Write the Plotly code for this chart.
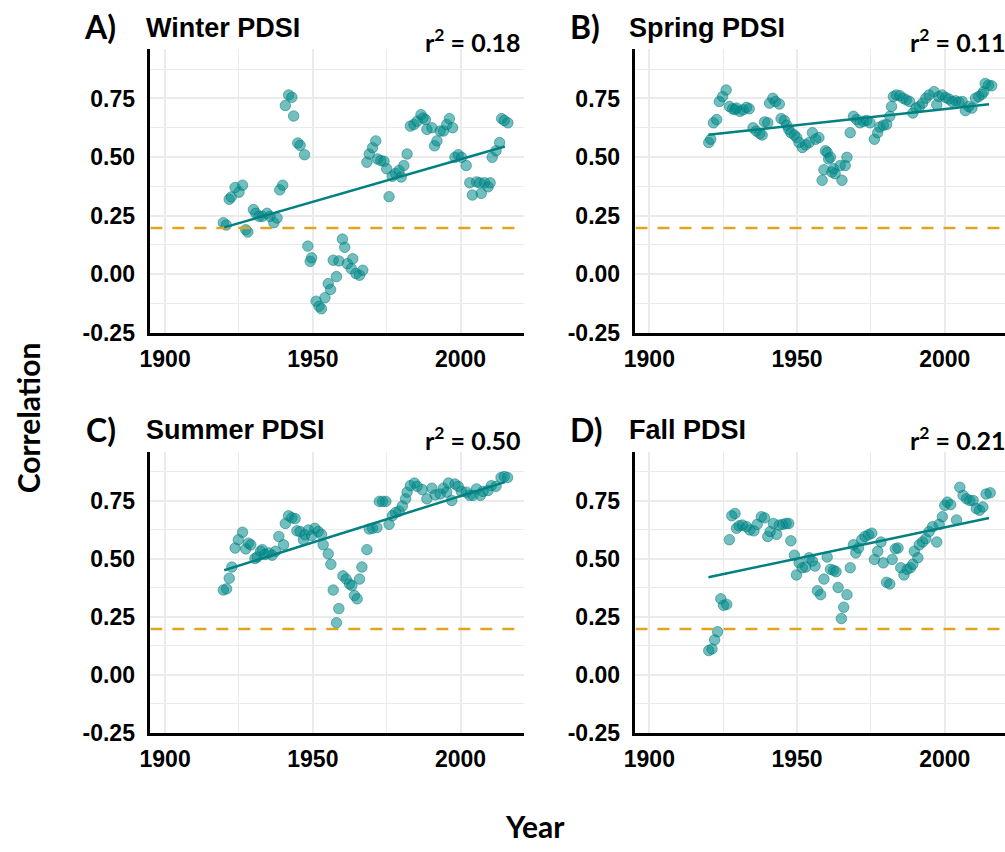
import plotly.graph_objects as go

# ---------------- data ----------------
panels = ["A)", "B)", "C)", "D)"]
titles = ["Winter PDSI", "Spring PDSI", "Summer PDSI", "Fall PDSI"]
r2_labels = ["0.18", "0.11", "0.50", "0.21"]

winter_year = [1919.7, 1920.7, 1921.7, 1922.4, 1923.7, 1925.0, 1926.2, 1927.3, 1928.0, 1929.9,
               1930.7, 1931.8, 1932.9, 1934.5, 1935.5, 1936.8, 1937.9, 1938.8, 1939.8, 1940.7,
               1941.8, 1942.9, 1943.5, 1944.9, 1945.7, 1947.2, 1948.3, 1949.1, 1949.6, 1951.1,
               1952.1, 1952.9, 1954.1, 1955.2, 1956.0, 1956.9, 1958.0, 1958.8, 1960.0, 1960.8,
               1961.7, 1963.0, 1963.5, 1964.6, 1965.8, 1966.9, 1968.3, 1969.1, 1970.2, 1971.3,
               1971.9, 1973.0, 1974.1, 1975.0, 1975.8, 1976.9, 1978.0, 1979.2, 1979.9, 1980.8,
               1981.9, 1983.0, 1984.2, 1985.3, 1986.6, 1987.3, 1988.1, 1988.6, 1990.3, 1991.2,
               1992.0, 1993.1, 1994.2, 1995.3, 1996.2, 1997.3, 1998.1, 1999.2, 2000.3, 2001.9,
               2003.1, 2004.0, 2005.4, 2006.5, 2007.0, 2008.1, 2009.3, 2010.0, 2010.7, 2012.0,
               2013.2, 2013.9, 2014.8, 2016.0]
winter_r = [0.22, 0.21, 0.32, 0.33, 0.37, 0.35, 0.38, 0.19, 0.18, 0.276,
            0.26, 0.247, 0.247, 0.26, 0.247, 0.22, 0.24, 0.36, 0.38, 0.72,
            0.765, 0.755, 0.675, 0.56, 0.55, 0.51, 0.12, 0.055, 0.07, -0.115,
            -0.137, -0.147, -0.10, -0.04, -0.065, 0.06, -0.01, 0.057, 0.15, 0.115,
            0.045, 0.024, 0.066, 0.003, -0.004, 0.017, 0.478, 0.513, 0.54, 0.569,
            0.492, 0.485, 0.482, 0.45, 0.331, 0.418, 0.43, 0.443, 0.415, 0.464,
            0.513, 0.632, 0.639, 0.653, 0.681, 0.667, 0.66, 0.618, 0.625, 0.548,
            0.569, 0.611, 0.611, 0.639, 0.664, 0.625, 0.499, 0.51, 0.499, 0.464,
            0.39, 0.338, 0.394, 0.39, 0.345, 0.39, 0.373, 0.39, 0.499, 0.527,
            0.562, 0.664, 0.656, 0.646]

spring_year = [1920.1, 1920.8, 1921.7, 1922.8, 1923.7, 1924.8, 1926.0, 1927.1, 1928.2, 1929.0,
               1929.5, 1930.7, 1931.8, 1932.9, 1933.8, 1935.1, 1936.2, 1937.4, 1938.2, 1939.0,
               1940.1, 1940.7, 1941.8, 1942.7, 1944.0, 1944.6, 1945.7, 1946.5, 1947.2, 1947.9,
               1949.1, 1949.9, 1950.7, 1951.8, 1952.9, 1954.1, 1955.2, 1956.3, 1957.4, 1958.5,
               1959.1, 1959.6, 1960.2, 1960.7, 1961.3, 1961.8, 1962.4, 1962.9, 1964.6, 1965.2,
               1966.3, 1966.9, 1968.0, 1969.1, 1970.2, 1971.3, 1972.5, 1973.6, 1974.7, 1976.2,
               1977.3, 1978.0, 1979.2, 1980.3, 1981.4, 1982.0, 1982.6, 1983.6, 1984.8, 1985.9,
               1987.0, 1988.1, 1989.2, 1990.3, 1991.4, 1992.5, 1993.6, 1994.7, 1996.4, 1997.3,
               1998.0, 1999.1, 2000.3, 2001.4, 2002.5, 2003.7, 2004.8, 2005.9, 2007.0, 2008.1,
               2009.2, 2010.4, 2011.5, 2012.6, 2013.2, 2013.7, 2014.8, 2015.9]
spring_r = [0.562, 0.576, 0.646, 0.66, 0.737, 0.758, 0.786, 0.716, 0.706, 0.702,
            0.709, 0.695, 0.702, 0.712, 0.706, 0.625, 0.611, 0.60, 0.594, 0.65,
            0.646, 0.73, 0.751, 0.737, 0.726, 0.664, 0.656, 0.636, 0.618, 0.604,
            0.594, 0.583, 0.562, 0.541, 0.552, 0.562, 0.604, 0.576, 0.583, 0.401,
            0.446, 0.527, 0.52, 0.492, 0.499, 0.436, 0.45, 0.429, 0.464, 0.401,
            0.464, 0.499, 0.604, 0.674, 0.66, 0.646, 0.653, 0.656, 0.646, 0.576,
            0.604, 0.628, 0.636, 0.639, 0.674, 0.716, 0.758, 0.765, 0.762, 0.751,
            0.744, 0.737, 0.688, 0.709, 0.716, 0.73, 0.751, 0.765, 0.779, 0.723,
            0.758, 0.765, 0.754, 0.748, 0.737, 0.74, 0.734, 0.737, 0.698, 0.716,
            0.709, 0.751, 0.758, 0.768, 0.779, 0.814, 0.807, 0.804]

summer_year = [1919.7, 1920.8, 1921.7, 1922.6, 1923.7, 1924.8, 1926.2, 1927.3, 1928.2, 1929.0,
               1930.4, 1931.2, 1932.3, 1932.9, 1933.8, 1935.1, 1936.2, 1937.4, 1938.5, 1940.1,
               1940.7, 1941.8, 1942.9, 1944.0, 1944.6, 1945.7, 1946.8, 1947.3, 1948.5, 1949.6,
               1950.7, 1951.8, 1952.9, 1953.5, 1955.2, 1956.1, 1956.9, 1958.0, 1958.8, 1960.2,
               1961.3, 1962.4, 1963.2, 1964.1, 1965.0, 1965.8, 1966.6, 1968.3, 1969.1, 1970.2,
               1971.7, 1972.5, 1973.6, 1974.7, 1975.8, 1976.9, 1978.0, 1979.2, 1980.3, 1981.4,
               1981.9, 1983.0, 1984.4, 1985.3, 1987.0, 1988.6, 1990.3, 1991.4, 1993.1, 1994.2,
               1995.3, 1995.9, 1997.0, 1998.1, 1999.2, 2000.3, 2002.0, 2003.1, 2004.2, 2005.4,
               2006.7, 2007.6, 2009.3, 2010.4, 2012.0, 2013.7, 2014.8, 2015.9]
summer_r = [0.365, 0.37, 0.416, 0.464, 0.546, 0.582, 0.614, 0.542, 0.567, 0.56,
            0.501, 0.507, 0.532, 0.539, 0.518, 0.525, 0.515, 0.532, 0.596, 0.56,
            0.652, 0.685, 0.676, 0.673, 0.62, 0.617, 0.582, 0.603, 0.624, 0.60,
            0.631, 0.617, 0.605, 0.56, 0.521, 0.476, 0.365, 0.224, 0.285, 0.426,
            0.412, 0.391, 0.384, 0.341, 0.327, 0.412, 0.464, 0.539, 0.628, 0.631,
            0.634, 0.747, 0.747, 0.747, 0.648, 0.685, 0.699, 0.705, 0.727, 0.758,
            0.787, 0.815, 0.826, 0.812, 0.798, 0.758, 0.804, 0.775, 0.779, 0.804,
            0.787, 0.826, 0.751, 0.822, 0.812, 0.79, 0.787, 0.773, 0.773, 0.801,
            0.773, 0.79, 0.794, 0.815, 0.812, 0.85, 0.854, 0.85]

fall_year = [1920.1, 1921.2, 1922.1, 1923.1, 1924.2, 1925.1, 1926.2, 1927.1, 1927.9, 1929.0,
             1929.5, 1930.4, 1931.5, 1932.9, 1934.0, 1935.4, 1936.5, 1937.9, 1939.0, 1940.1,
             1940.9, 1942.0, 1943.1, 1944.0, 1945.2, 1946.3, 1947.2, 1947.9, 1949.1, 1949.8,
             1950.7, 1951.8, 1952.9, 1954.1, 1955.2, 1956.1, 1956.9, 1958.0, 1959.1, 1960.2,
             1961.3, 1962.4, 1963.2, 1963.9, 1965.0, 1965.8, 1966.9, 1968.0, 1969.1, 1969.9,
             1970.8, 1971.9, 1973.0, 1974.2, 1975.3, 1976.2, 1977.3, 1978.4, 1979.2, 1980.3,
             1981.4, 1982.2, 1983.3, 1984.2, 1985.1, 1986.2, 1987.3, 1988.4, 1989.2, 1989.7,
             1990.9, 1991.4, 1992.5, 1993.6, 1994.7, 1995.9, 1997.3, 1998.1, 1999.2, 2000.0,
             2000.9, 2002.0, 2004.0, 2005.1, 2006.2, 2007.4, 2008.5, 2009.6, 2010.7, 2011.8,
             2012.9, 2014.0, 2015.4]
fall_r = [0.104, 0.111, 0.15, 0.185, 0.327, 0.299, 0.303, 0.582, 0.685, 0.695,
          0.631, 0.642, 0.645, 0.638, 0.624, 0.62, 0.648, 0.681, 0.676, 0.596,
          0.617, 0.652, 0.605, 0.645, 0.648, 0.652, 0.652, 0.577, 0.515, 0.43,
          0.482, 0.461, 0.464, 0.504, 0.49, 0.468, 0.362, 0.345, 0.412, 0.507,
          0.454, 0.45, 0.444, 0.376, 0.242, 0.291, 0.345, 0.461, 0.56, 0.525,
          0.546, 0.582, 0.596, 0.603, 0.61, 0.497, 0.532, 0.572, 0.482, 0.398,
          0.391, 0.497, 0.543, 0.546, 0.461, 0.43, 0.454, 0.461, 0.476, 0.532,
          0.504, 0.56, 0.572, 0.586, 0.617, 0.638, 0.572, 0.648, 0.681, 0.73,
          0.744, 0.733, 0.667, 0.808, 0.773, 0.758, 0.751, 0.751, 0.716, 0.709,
          0.723, 0.779, 0.784]

trend_years = [1920, 2015]
trend_winter = [0.20, 0.545]
trend_spring = [0.595, 0.725]
trend_summer = [0.45, 0.83]
trend_fall = [0.42, 0.675]

crit_r = 0.197

x_ticks = [1900, 1950, 2000]
x_minor = [1925, 1975]
y_ticks = [-0.25, 0.0, 0.25, 0.50, 0.75]
y_tick_text = ["-0.25", "0.00", "0.25", "0.50", "0.75"]
y_minor = [-0.125, 0.125, 0.375, 0.625, 0.875]

series = [(winter_year, winter_r, trend_winter),
          (spring_year, spring_r, trend_spring),
          (summer_year, summer_r, trend_summer),
          (fall_year, fall_r, trend_fall)]

# ---------------- layout geometry (pixels) ----------------
W, H = 1005, 852


def fx(p):
    return p / W


def fy(p):
    return 1 - p / H


# plot boxes: left, right, top, bottom in pixels
boxes = [(140, 518, 50, 338), (631, 1005, 50, 338),
         (140, 518, 459, 744), (631, 1005, 459, 744)]
x_ranges = [[1895.0, 2021.4], [1895.3, 2020.4], [1895.0, 2021.4], [1895.3, 2020.4]]
y_range = [-0.25, 0.96]

POINT_FILL = "rgba(0,139,139,0.55)"
POINT_LINE = "rgba(0,120,120,0.5)"
TREND = "#008080"
DASH = "#DDA520"
GRID = "#EBEBEB"

fig = go.Figure()

for i, (yrs, vals, trend) in enumerate(series):
    xa = "x" if i == 0 else f"x{i+1}"
    ya = "y" if i == 0 else f"y{i+1}"
    fig.add_trace(go.Scatter(
        x=yrs, y=vals, mode="markers", xaxis=xa, yaxis=ya, showlegend=False,
        marker=dict(size=10.5, color=POINT_FILL, line=dict(color=POINT_LINE, width=1)),
    ))
    fig.add_trace(go.Scatter(
        x=x_ranges[i], y=[crit_r, crit_r], mode="lines", xaxis=xa, yaxis=ya,
        showlegend=False, line=dict(color=DASH, width=2.5, dash="12px,10px"),
    ))
    fig.add_trace(go.Scatter(
        x=trend_years, y=trend, mode="lines", xaxis=xa, yaxis=ya, showlegend=False,
        line=dict(color=TREND, width=2.5),
    ))

tick_font = dict(family="Liberation Sans, Arial, sans-serif", size=23, color="black", weight="bold")

layout = dict(
    width=W, height=H,
    margin=dict(l=0, r=0, t=0, b=0),
    paper_bgcolor="white", plot_bgcolor="white",
    showlegend=False,
)

for i, (l, r, t, b) in enumerate(boxes):
    xk = "xaxis" if i == 0 else f"xaxis{i+1}"
    yk = "yaxis" if i == 0 else f"yaxis{i+1}"
    ya = "y" if i == 0 else f"y{i+1}"
    xa = "x" if i == 0 else f"x{i+1}"
    layout[xk] = dict(
        domain=[fx(l), fx(r)], anchor=ya, range=x_ranges[i],
        tickmode="array", tickvals=x_ticks, ticktext=[str(v) for v in x_ticks],
        showgrid=True, gridcolor=GRID, gridwidth=1.6,
        minor=dict(tickmode="array", tickvals=x_minor, showgrid=True, gridcolor=GRID, gridwidth=1.3),
        showline=True, linecolor="black", linewidth=2.5, mirror=False,
        ticks="", ticklabelstandoff=4, tickfont=tick_font, zeroline=False,
    )
    layout[yk] = dict(
        domain=[fy(b), fy(t)], anchor=xa, range=y_range,
        tickmode="array", tickvals=y_ticks, ticktext=y_tick_text,
        showgrid=True, gridcolor=GRID, gridwidth=1.6,
        minor=dict(tickmode="array", tickvals=y_minor, showgrid=True, gridcolor=GRID, gridwidth=1.3),
        showline=True, linecolor="black", linewidth=2.5, mirror=False,
        ticks="", ticklabelstandoff=8, tickfont=tick_font, zeroline=False,
    )

fig.update_layout(**layout)

annotations = []
label_font = dict(family="Lato, Calibri, sans-serif", size=32, color="black", weight="bold")
title_font = dict(family="Liberation Sans, Arial, sans-serif", size=27, color="black", weight="bold")
r2_font = dict(family="Lato, Calibri, sans-serif", size=25, color="black", weight="bold")

label_pos = [(71, 27), (563, 27), (73, 436), (563, 436)]
title_pos = [(134, 28), (622, 28), (134, 437), (622, 437)]
r2_pos = [(517, 41), (1008, 41), (517, 445), (1008, 445)]

for i in range(4):
    annotations.append(dict(text=panels[i], x=fx(label_pos[i][0]), y=fy(label_pos[i][1]),
                            xref="paper", yref="paper", xanchor="left", yanchor="middle",
                            showarrow=False, font=label_font))
    annotations.append(dict(text=titles[i], x=fx(title_pos[i][0]), y=fy(title_pos[i][1]),
                            xref="paper", yref="paper", xanchor="left", yanchor="middle",
                            showarrow=False, font=title_font))
    annotations.append(dict(text=f"r<sup>2</sup> = {r2_labels[i]}", x=fx(r2_pos[i][0]), y=fy(r2_pos[i][1]),
                            xref="paper", yref="paper", xanchor="right", yanchor="middle",
                            showarrow=False, font=r2_font))

axis_font = dict(family="Lato, Calibri, sans-serif", size=30, color="black", weight="bold")
annotations.append(dict(text="Correlation", x=fx(16), y=fy(424), xref="paper", yref="paper",
                        textangle=-90, xanchor="center", yanchor="middle", showarrow=False, font=axis_font))
annotations.append(dict(text="Year", x=fx(529), y=fy(839), xref="paper", yref="paper",
                        xanchor="center", yanchor="middle", showarrow=False, font=axis_font))

fig.update_layout(annotations=annotations)

fig.write_html("out.html")
